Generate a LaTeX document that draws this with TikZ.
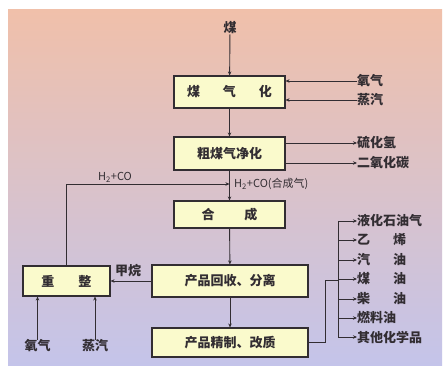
\documentclass[tikz,border=0pt]{standalone}
\usepackage{fontspec}
\setmainfont{Noto Sans CJK SC}
\usetikzlibrary{arrows.meta}
\XeTeXinterchartokenstate=1
\XeTeXinterchartoks 1 1 = {\hskip5pt\relax}
\definecolor{bgtop}{RGB}{240,192,170}
\definecolor{bgmid}{RGB}{222,188,198}
\definecolor{bgbot}{RGB}{196,196,234}
\definecolor{boxfill}{RGB}{250,250,204}
\definecolor{ink}{RGB}{50,45,50}
\begin{document}
\begin{tikzpicture}[x=1pt,y=-1pt,
  box/.style={draw=ink, line width=1.1pt, fill=boxfill, inner sep=0pt, text=ink, font=\fontsize{13}{15}\selectfont\bfseries},
  lab/.style={inner sep=0pt, text=ink, font=\fontsize{13}{15}\selectfont\bfseries},
  slab/.style={inner sep=0pt, text=ink, font=\fontsize{11}{13}\selectfont},
  arr/.style={draw=ink, line width=0.9pt, -{Stealth[length=4pt,width=3.5pt]}},
  ln/.style={draw=ink, line width=0.9pt}]
\useasboundingbox (0,0) rectangle (445,366);
\fill[white] (0,0) rectangle (445,366);
\shade[top color=bgtop, middle color=bgmid, bottom color=bgbot] (8,10) rectangle (442,366);
% boxes
\node[box, minimum width=111pt, minimum height=32pt] (gas) at (229.5,92) {煤\hspace{23pt}气\hspace{23pt}化};
\node[box, minimum width=111pt, minimum height=33pt] (pur) at (229.5,153.5) {粗煤气净化};
\node[box, minimum width=111pt, minimum height=27pt] (syn) at (229.5,214.5) {合\hspace{30pt}成};
\node[box, minimum width=156pt, minimum height=32pt] (rec) at (230,281) {产品回收、分离};
\node[box, minimum width=156pt, minimum height=29pt] (ref) at (230,342.5) {产品精制、改质};
\node[box, minimum width=87pt, minimum height=30pt] (rfm) at (66.5,281) {重\hspace{24pt}整};
% labels
\node[lab] (coal) at (230,28) {煤};
\node[lab, anchor=west] (o2a) at (357,81) {氧气};
\node[lab, anchor=west] (st1) at (357,100) {蒸汽};
\node[lab, anchor=west] (h2s) at (357,143) {硫化氢};
\node[lab, anchor=west] (co2) at (357,163) {二氧化碳};
\node[slab, anchor=west] (syng) at (234,184) {H\textsubscript{2}+CO(合成气)};
\node[slab] (h2co) at (115,177) {H\textsubscript{2}+CO};
\node[lab] (ch4) at (128,271) {甲烷};
\node[lab] (o2b) at (37.5,346) {氧气};
\node[lab] (st2) at (95,346) {蒸汽};
% products
\node[lab, anchor=west] (p1) at (357,221) {液化石油气};
\node[lab, anchor=west] (p2) at (357,240) {乙\hspace{23pt}烯};
\node[lab, anchor=west] (p3) at (357,260) {汽\hspace{23pt}油};
\node[lab, anchor=west] (p4) at (357,279) {煤\hspace{23pt}油};
\node[lab, anchor=west] (p5) at (357,299) {柴\hspace{23pt}油};
\node[lab, anchor=west] (p6) at (357,318) {燃料油};
\node[lab, anchor=west] (p7) at (357,337) {其他化学品};
% main flow
\draw[arr] (coal) -- (gas);
\draw[arr] (gas) -- (pur);
\draw[arr] (pur) -- (syn);
\draw[arr] (syn) -- (rec);
\draw[arr] (rec) -- (ref);
% side inputs / outputs
\draw[arr] (o2a.west) -- (gas.east |- o2a.west);
\draw[arr] (st1.west) -- (gas.east |- st1.west);
\draw[arr] (pur.east |- h2s.west) -- (h2s.west);
\draw[arr] (pur.east |- co2.west) -- (co2.west);
% recycle
\coordinate (j) at (229.5,184);
\draw[arr] (rfm.north) |- (j);
\draw[arr] (rec.west) -- (rfm.east);
\draw[arr] (o2b.north) -- (rfm.south -| o2b.north);
\draw[arr] (st2.north) -- (rfm.south -| st2.north);
% product bus
\coordinate (bt) at (338,221);
\coordinate (bb) at (338,337);
\coordinate (k) at (325,280);
\draw[ln] (bt) -- (bb);
\draw[ln] (ref.east) -| (k) -- (bt |- k);
\foreach \p in {p1,p2,p3,p4,p5,p6,p7} {\draw[arr] (bt |- \p.west) -- (\p.west);}
\end{tikzpicture}
\end{document}
